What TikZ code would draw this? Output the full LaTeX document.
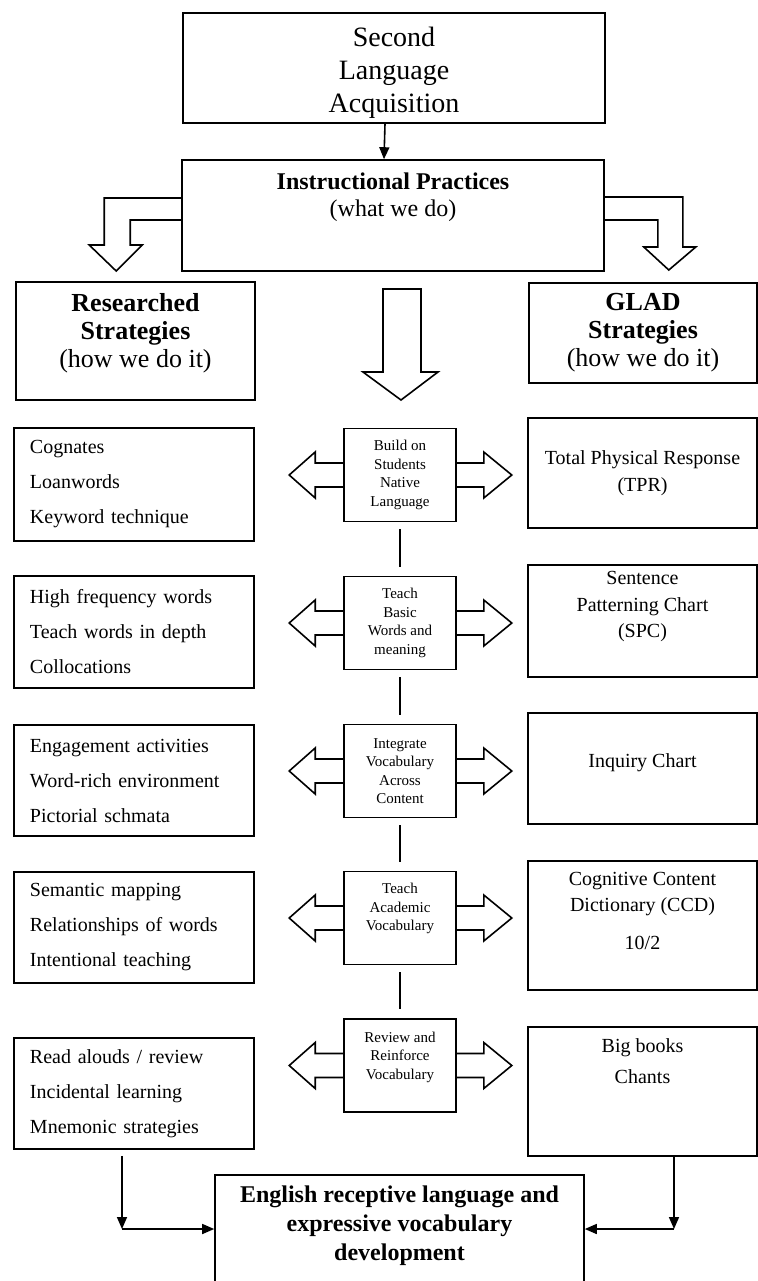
\documentclass[tikz,border=0pt]{standalone}
\usepackage{fontspec}
\setmainfont{Liberation Serif}
\usetikzlibrary{arrows.meta}

\begin{document}
\begin{tikzpicture}[x=0.5pt,y=-0.5pt,line width=0.8pt,
    headbox/.style={draw=black,text=black,shape=rectangle,inner sep=0pt,align=center},
    listbox/.style={draw=black,text=black,shape=rectangle,inner xsep=8pt,inner ysep=0pt,text width=104pt,align=left,minimum height=55.5pt,font=\fontsize{10}{17.5}\selectfont},
    midbox/.style={draw=black,text=black,shape=rectangle,inner sep=0pt,align=center,minimum width=56pt,minimum height=46.5pt,font=\fontsize{7.5}{9.2}\selectfont},
    sidebox/.style={draw=black,text=black,shape=rectangle,inner sep=0pt,align=center,minimum width=114.5pt,minimum height=55.5pt,font=\fontsize{10}{13.2}\selectfont},
    tip/.style={-{Triangle[length=6pt,width=5pt]}}]
                    \clip (0,0) rectangle (758,1281);
                    \node[headbox,minimum width=211pt,minimum height=55pt,text height=47.5pt,font=\fontsize{14}{16.5}\selectfont] (SLA) at (394,68) {Second\\Language\\Acquisition};
                    \node[headbox,minimum width=211pt,minimum height=55.5pt,text depth=21pt,font=\fontsize{12}{13.5}\selectfont] (IP) at (393,215.5) {\textbf{Instructional Practices}\\(what we do)};
                    \node[headbox,minimum width=119.5pt,minimum height=59pt,text depth=11pt,font=\fontsize{13}{14}\selectfont] (RS) at (135.5,341) {\textbf{Researched}\\\textbf{Strategies}\\(how we do it)};
                    \node[headbox,minimum width=114pt,minimum height=50pt,font=\fontsize{13}{14}\selectfont] (GS) at (643,333) {\textbf{GLAD}\\\textbf{Strategies}\\(how we do it)};

                    \node[midbox] (C1) at (400,475) {Build on\\Students\\Native\\Language};
                    \node[midbox] (C2) at (400,623) {Teach\\Basic\\Words and\\meaning};
                    \node[midbox] (C3) at (400,771) {Integrate\\Vocabulary\\Across\\Content};
                    \node[midbox,text depth=11pt] (C4) at (400,918) {Teach\\Academic\\Vocabulary};
                    \node[midbox,text depth=10pt] (C5) at (400,1065.5) {Review and\\Reinforce\\Vocabulary};

                    \node[listbox,minimum height=56.5pt] (L1) at (134,484.5) {Cognates\\Loanwords\\Keyword technique};
                    \node[listbox,minimum height=56pt] (L2) at (134,632) {High frequency words\\Teach words in depth\\Collocations};
                    \node[listbox] (L3) at (134,780.5) {Engagement activities\\Word-rich environment\\Pictorial schmata};
                    \node[listbox] (L4) at (134,927.5) {Semantic mapping\\Relationships of words\\Intentional teaching};
                    \node[listbox] (L5) at (134,1093.5) {Read alouds / review\\Incidental learning\\Mnemonic strategies};

                    \node[sidebox,minimum height=55pt] (R1) at (642.5,473) {Total Physical Response\\(TPR)};
                    \node[sidebox,minimum height=56pt,text depth=16.5pt] (R2) at (642.5,621) {Sentence\\Patterning Chart\\(SPC)};
                    \node[sidebox,text depth=7.5pt] (R3) at (642.5,768.5) {Inquiry Chart};
                    \node[sidebox,minimum height=64.5pt,text depth=15pt] (R4) at (642.5,925.5) {Cognitive Content\\Dictionary (CCD)\\[5.5pt]10/2};
                    \node[sidebox,minimum height=64.5pt,text depth=30.5pt] (R5) at (642.5,1091.5) {Big books\\[2pt]Chants};

                    \node[headbox,minimum width=184.5pt,minimum height=72.5pt,text depth=24.5pt,font=\fontsize{12}{14.5}\selectfont] (ERL) at (399.5,1247.5) {\textbf{English receptive language and}\\\textbf{expressive vocabulary}\\\textbf{development}};

                    % connectors
                    \draw[tip] ([xshift=-4.5pt]SLA.south) -- ([xshift=-4.5pt]IP.north);
                    \draw[shorten <=3.5pt,shorten >=4.5pt] (C1) -- (C2);
                    \draw[shorten <=3.5pt,shorten >=4.5pt] (C2) -- (C3);
                    \draw[shorten <=3.5pt,shorten >=4.5pt] (C3) -- (C4);
                    \draw[shorten <=3.5pt,shorten >=4.5pt] (C4) -- (C5);

                    \coordinate (LC) at (122,1229);
                    \coordinate (RC) at (674,1229);
                    \draw[tip,shorten <=3pt] (L5.south -| LC) -- (LC);
                    \draw[tip] (LC) -- (ERL.west |- LC);
                    \draw[tip] (R5.south -| RC) -- (RC);
                    \draw[tip] (RC) -- (ERL.east |- RC);

                    % block arrows
                    \draw ([yshift=8.75pt]IP.west) -- ++(-77,0) -- ++(0,47) -- ++(-15,0) -- ++(27,26) -- ++(26,-26) -- ++(-12,0) -- ++(0,-25) -- ++(51,0);
                    \draw ([yshift=9.25pt]IP.east) -- ++(78,0) -- ++(0,50) -- ++(13,0) -- ++(-27,23) -- ++(-25,-23) -- ++(14,0) -- ++(0,-27) -- ++(-53,0);
                    \draw (383,289) -- (421,289) -- (421,372) -- (438,372) -- (401,400) -- (363,372) -- (383,372) -- cycle;

                    \draw ([yshift=6pt]C1.west) -- ++(-28,0) -- ++(0,-11) -- ++(-26,23) -- ++(26,23) -- ++(0,-11) -- ++(28,0);
                    \draw ([yshift=6pt]C1.east) -- ++(27,0) -- ++(0,-11) -- ++(28,23) -- ++(-28,23) -- ++(0,-11) -- ++(-27,0);
                    \draw ([yshift=6pt]C2.west) -- ++(-28,0) -- ++(0,-11) -- ++(-26,23) -- ++(26,23) -- ++(0,-11) -- ++(28,0);
                    \draw ([yshift=6pt]C2.east) -- ++(27,0) -- ++(0,-11) -- ++(28,23) -- ++(-28,23) -- ++(0,-11) -- ++(-27,0);
                    \draw ([yshift=6pt]C3.west) -- ++(-28,0) -- ++(0,-11) -- ++(-26,23) -- ++(26,23) -- ++(0,-11) -- ++(28,0);
                    \draw ([yshift=6pt]C3.east) -- ++(27,0) -- ++(0,-11) -- ++(28,23) -- ++(-28,23) -- ++(0,-11) -- ++(-27,0);
                    \draw ([yshift=6pt]C4.west) -- ++(-28,0) -- ++(0,-11) -- ++(-26,23) -- ++(26,23) -- ++(0,-11) -- ++(28,0);
                    \draw ([yshift=6pt]C4.east) -- ++(27,0) -- ++(0,-11) -- ++(28,23) -- ++(-28,23) -- ++(0,-11) -- ++(-27,0);
                    \draw ([yshift=6pt]C5.west) -- ++(-28,0) -- ++(0,-11) -- ++(-26,23) -- ++(26,23) -- ++(0,-11) -- ++(28,0);
                    \draw ([yshift=6pt]C5.east) -- ++(27,0) -- ++(0,-11) -- ++(28,23) -- ++(-28,23) -- ++(0,-11) -- ++(-27,0);
                \end{tikzpicture}
\end{document}
